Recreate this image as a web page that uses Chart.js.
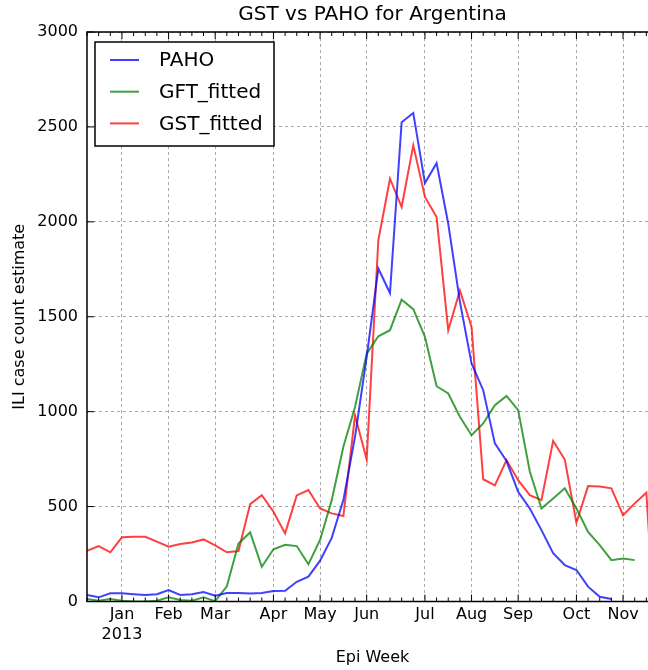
<!DOCTYPE html>
<html>
<head>
<meta charset="utf-8">
<script src="https://cdn.jsdelivr.net/npm/chart.js@4.4.0/dist/chart.umd.min.js"></script>
<style>
  html, body { margin: 0; padding: 0; background: #fff; overflow: hidden; }
  #wrap { width: 700px; height: 670px; }
</style>
</head>
<body>
<div id="wrap"><canvas id="chart" width="700" height="670"></canvas></div>
<script>
// epi week index, Dec 2012 .. Nov 2013
const weekIdx = [0, 1, 2, 3, 4, 5, 6, 7, 8, 9, 10, 11, 12, 13, 14, 15, 16, 17, 18, 19, 20, 21, 22, 23, 24,
  25, 26, 27, 28, 29, 30, 31, 32, 33, 34, 35, 36, 37, 38, 39, 40, 41, 42, 43, 44, 45, 46, 47, 48, 49];

// month labels sit on the first week of each month
const monthWeeks = [3, 7, 11, 16, 20, 24, 29, 33, 37, 42, 46];
const monthLabels = [['Jan', '2013'], 'Feb', 'Mar', 'Apr', 'May', 'Jun', 'Jul', 'Aug', 'Sep', 'Oct', 'Nov'];

const yTicks = [0, 500, 1000, 1500, 2000, 2500, 3000];

const paho = [34, 22, 43, 43, 38, 34, 38, 60, 34, 38, 50, 30, 45, 45, 42, 45, 55, 57, 104, 131,
  215, 335, 534, 867, 1288, 1754, 1625, 2525, 2573, 2204, 2309, 1990, 1580, 1254, 1113, 833,
  740, 578, 490, 376, 254, 192, 166, 78, 25, 13];

const gftFitted = [13, 4, 13, 4, 0, 0, 4, 22, 8, 4, 22, 2, 80, 306, 364, 183, 275, 299, 292, 196,
  324, 534, 815, 1025, 1306, 1397, 1429, 1590, 1540, 1394, 1134, 1096, 973, 876, 938, 1034,
  1083, 1008, 685, 490, 543, 596, 490, 367, 297, 218, 227, 218];

const gstFitted = [267, 292, 259, 338, 341, 341, 315, 289, 303, 311, 327, 296, 259, 266, 513, 560,
  473, 359, 559, 587, 490, 464, 450, 981, 748, 1903, 2227, 2078, 2403, 2131, 2025, 1429, 1639,
  1446, 644, 612, 745, 639, 560, 534, 846, 748, 415, 608, 606, 596, 455, 517, 573, -400];

const FONT = "'DejaVu Sans', sans-serif";

function toPoints(values) {
  return values.map((v, i) => ({ x: weekIdx[i], y: v }));
}

// inward ticks, frame and boxed legend like matplotlib
const mplDecor = {
  id: 'mplDecor',
  afterDatasetsDraw(chart) {
    const { ctx, chartArea: a, scales } = chart;
    ctx.save();
    ctx.strokeStyle = '#000';
    ctx.lineWidth = 1;
    weekIdx.forEach(w => {
      const x = scales.x.getPixelForValue(w);
      const len = monthWeeks.includes(w) ? 7 : 4;
      ctx.beginPath();
      ctx.moveTo(x, a.bottom); ctx.lineTo(x, a.bottom - len);
      ctx.moveTo(x, a.top); ctx.lineTo(x, a.top + len);
      ctx.stroke();
    });
    yTicks.forEach(v => {
      const y = scales.y.getPixelForValue(v);
      ctx.beginPath();
      ctx.moveTo(a.left, y); ctx.lineTo(a.left + 7, y);
      ctx.moveTo(a.right, y); ctx.lineTo(a.right - 7, y);
      ctx.stroke();
    });
    ctx.lineWidth = 1.5;
    ctx.strokeRect(a.left, a.top, a.right - a.left, a.bottom - a.top);

    // legend
    ctx.fillStyle = '#fff';
    ctx.fillRect(95, 42, 179, 104);
    ctx.strokeStyle = '#000';
    ctx.lineWidth = 1.5;
    ctx.strokeRect(95, 42, 179, 104);
    ctx.font = '20px ' + FONT;
    ctx.textBaseline = 'middle';
    chart.data.datasets.forEach((ds, i) => {
      const y = 60 + i * 31.7;
      ctx.strokeStyle = ds.borderColor;
      ctx.lineWidth = 2;
      ctx.beginPath();
      ctx.moveTo(110, y); ctx.lineTo(139, y);
      ctx.stroke();
      ctx.fillStyle = '#000';
      ctx.fillText(ds.label, 159, y + 1);
    });
    ctx.restore();
  }
};

new Chart(document.getElementById('chart'), {
  type: 'line',
  data: {
    datasets: [
      { label: 'PAHO', data: toPoints(paho), borderColor: 'rgba(0, 0, 255, 0.75)' },
      { label: 'GFT_fitted', data: toPoints(gftFitted), borderColor: 'rgba(0, 128, 0, 0.75)' },
      { label: 'GST_fitted', data: toPoints(gstFitted), borderColor: 'rgba(255, 0, 0, 0.75)' }
    ]
  },
  options: {
    responsive: false,
    animation: false,
    layout: { padding: { top: 0, left: 0, right: 42, bottom: 0 } },
    elements: {
      line: { borderWidth: 2, tension: 0, fill: false },
      point: { radius: 0, hoverRadius: 0 }
    },
    plugins: {
      legend: { display: false },
      tooltip: { enabled: false },
      title: {
        display: true,
        text: 'GST vs PAHO for Argentina',
        fullSize: false,
        color: '#000',
        font: { family: FONT, size: 20, weight: 'normal', lineHeight: 1.15 },
        padding: { top: 3, bottom: 6 }
      }
    },
    scales: {
      x: {
        type: 'linear',
        min: 0,
        max: 49,
        afterBuildTicks: scale => { scale.ticks = monthWeeks.map(v => ({ value: v })); },
        afterFit: scale => { scale.height = 68.5; },
        ticks: {
          autoSkip: false,
          maxRotation: 0,
          padding: 3,
          color: '#000',
          font: { family: FONT, size: 16, lineHeight: 1.25 },
          callback: v => {
            const i = monthWeeks.indexOf(v);
            return i >= 0 ? monthLabels[i] : '';
          }
        },
        grid: { color: '#a8a8a8', lineWidth: 1, drawTicks: false },
        border: { display: false, dash: [3, 3] },
        title: {
          display: true,
          text: 'Epi Week',
          color: '#000',
          font: { family: FONT, size: 16 },
          padding: { top: 0, bottom: 3 }
        }
      },
      y: {
        min: 0,
        max: 3000,
        afterBuildTicks: scale => { scale.ticks = yTicks.map(v => ({ value: v })); },
        afterFit: scale => { scale.width = 87; },
        ticks: {
          padding: 9,
          color: '#000',
          font: { family: FONT, size: 16 },
          callback: v => String(v)
        },
        grid: { color: '#a8a8a8', lineWidth: 1, drawTicks: false },
        border: { display: false, dash: [3, 3] },
        title: {
          display: true,
          text: 'ILI case count estimate',
          color: '#000',
          font: { family: FONT, size: 16 },
          padding: { top: 10, bottom: 0 }
        }
      }
    }
  },
  plugins: [mplDecor]
});
</script>
</body>
</html>
